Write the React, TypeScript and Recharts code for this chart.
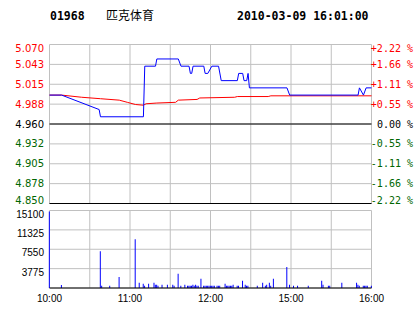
import React from "react";
import {
  LineChart,
  Line,
  BarChart,
  Bar,
  XAxis,
  YAxis,
  CartesianGrid,
  ReferenceLine
} from "recharts";

const stockCode = "01968";
const stockName = "匹克体育";
const stamp = "2010-03-09 16:01:00";

// minutes from 10:00 (12:30 and 14:30 touch)
const priceTimes = [0, 9, 37, 38, 70, 71, 79, 80, 96, 98, 104, 105, 106, 107, 115, 116, 118, 121, 126, 128, 140, 141, 144, 145, 147, 148, 149, 177, 179, 230, 231, 234, 236, 240];
const priceValues = [5.0, 5.0, 4.98, 4.97, 4.97, 5.04, 5.04, 5.05, 5.05, 5.04, 5.04, 5.03, 5.03, 5.04, 5.04, 5.03, 5.03, 5.04, 5.04, 5.02, 5.02, 5.03, 5.03, 5.02, 5.02, 5.03, 5.01, 5.01, 5.0, 5.0, 5.01, 5.0, 5.01, 5.01];

const avgTimes = [0, 9, 24, 38, 52, 58, 64, 70, 72, 80, 94, 96, 110, 112, 138, 140, 163, 165, 240];
const avgValues = [5.0, 5.0, 4.997, 4.995, 4.993, 4.99, 4.987, 4.986, 4.988, 4.989, 4.99, 4.993, 4.994, 4.996, 4.997, 4.998, 4.998, 4.999, 4.999];

const volTimes = [0, 9, 38, 39, 45, 52, 64, 67, 70, 71, 74, 78, 79, 80, 81, 84, 88, 92, 93, 96, 98, 101, 103, 104, 105, 106, 107, 108, 109, 110, 111, 113, 115, 116, 117, 118, 119, 120, 121, 122, 123, 125, 126, 127, 131, 132, 133, 134, 135, 136, 137, 140, 141, 144, 146, 147, 148, 155, 159, 161, 162, 164, 165, 167, 177, 179, 182, 185, 193, 203, 204, 208, 209, 218, 229, 230, 231, 234, 235, 236, 237, 240];
const volValues = [14900, 590, 7160, 450, 450, 2150, 9490, 1040, 840, 450, 840, 1040, 650, 650, 450, 650, 650, 650, 450, 2800, 450, 650, 450, 450, 450, 450, 650, 450, 650, 450, 450, 1820, 450, 450, 450, 450, 450, 450, 450, 450, 450, 450, 450, 450, 840, 450, 450, 450, 450, 450, 650, 450, 450, 1430, 650, 450, 450, 450, 1040, 450, 650, 1040, 450, 1820, 4100, 650, 450, 450, 450, 1430, 650, 450, 450, 1040, 1040, 650, 450, 450, 450, 450, 450, 450];

const gridTimes = [0, 30, 60, 90, 120, 150, 180, 210, 240];
const labelTimes = [0, 60, 120, 180, 240];
const timeLabels = ["10:00", "11:00", "12:00", "15:00", "16:00"];

const priceTicks = [4.85, 4.8775, 4.905, 4.9325, 4.96, 4.9875, 5.015, 5.0425, 5.07];
const priceLabels = ["4.850", "4.878", "4.905", "4.932", "4.960", "4.988", "5.015", "5.043", "5.070"];
const pctLabels = ["-2.22 %", "-1.66 %", "-1.11 %", "-0.55 %", "0.00 %", "+0.55 %", "+1.11 %", "+1.66 %", "+2.22 %"];

const volTicks = [0, 3775, 7550, 11325, 15100];
const volLabels = ["", "3775", "7550", "11325", "15100"];

const priceData = priceTimes.map((t, i) => ({ t, p: priceValues[i] }));
const avgData = avgTimes.map((t, i) => ({ t, p: avgValues[i] }));
const volData = volTimes.map((t, i) => ({ t, v: volValues[i] }));

const UP = "#ff0000";
const DOWN = "#006600";
const GRID = "#c0c0c0";

const tickColor = (i: number) => (i > 4 ? UP : i < 4 ? DOWN : "#000000");
const tickShift = (i: number) => (i === priceTicks.length - 1 ? 7.5 : i === 0 ? 0 : 3.6);

// left price label and right percent label share one tick
const PriceTick = ({ y, index }: any) => (
  <g>
    <text
      x={44}
      y={y + tickShift(index)}
      textAnchor="end"
      fontSize={10}
      fontFamily="'DejaVu Sans', Verdana, sans-serif"
      fill={tickColor(index)}
    >
      {priceLabels[index]}
    </text>
    <text
      x={413}
      y={y + tickShift(index)}
      textAnchor="end"
      fontSize={10}
      fontFamily="'DejaVu Sans Mono', monospace"
      fill={tickColor(index)}
    >
      {pctLabels[index]}
    </text>
  </g>
);

const VolTick = ({ y, index }: any) => (
  <text
    x={44}
    y={y + 7}
    textAnchor="end"
    fontSize={10}
    fontFamily="'Liberation Sans', Arial, sans-serif"
    fill="#000"
  >
    {volLabels[index]}
  </text>
);

const TimeTick = ({ x, payload }: any) => {
  const k = labelTimes.indexOf(payload.value);
  if (k < 0) return null;
  return (
    <text
      x={x}
      y={102}
      textAnchor="middle"
      fontSize={10}
      fontFamily="'Liberation Sans', Arial, sans-serif"
      fill="#000"
    >
      {timeLabels[k]}
    </text>
  );
};

const headStyle: React.CSSProperties = {
  position: "absolute",
  top: 9,
  fontFamily: "'DejaVu Sans Mono', monospace",
  fontWeight: "bold",
  fontSize: 11.5,
  lineHeight: "14px",
  color: "#000"
};

export default function App() {
  return (
    <div style={{ position: "absolute", left: 0, top: 0, width: 414, height: 314, background: "#fff" }}>
      <div style={{ ...headStyle, left: 50 }}>{stockCode}</div>
      <div
        style={{
          ...headStyle,
          left: 106,
          top: 8,
          fontWeight: "normal",
          fontSize: 12,
          fontFamily: "'Noto Sans CJK SC', sans-serif"
        }}
      >
        {stockName}
      </div>
      <div style={{ ...headStyle, left: 237 }}>{stamp}</div>

      <div style={{ position: "absolute", left: 0, top: 0 }}>
        <LineChart width={414} height={215} margin={{ top: 44.5, right: 42.5, bottom: 11.5, left: 0 }}>
          <CartesianGrid stroke={GRID} />
          <XAxis type="number" dataKey="t" domain={[0, 240]} ticks={gridTimes} hide />
          <YAxis
            domain={[4.85, 5.07]}
            ticks={priceTicks}
            interval={0}
            width={49.5}
            axisLine={false}
            tickLine={false}
            tick={<PriceTick />}
          />
          <ReferenceLine y={4.96} stroke="#000" />
          <ReferenceLine y={4.85} stroke="#000" />
          <Line
            data={avgData}
            dataKey="p"
            type="linear"
            stroke="#ff0000"
            strokeWidth={1}
            dot={false}
            isAnimationActive={false}
          />
          <Line
            data={priceData}
            dataKey="p"
            type="linear"
            stroke="#0000ff"
            strokeWidth={1}
            dot={false}
            isAnimationActive={false}
          />
        </LineChart>
      </div>

      <div style={{ position: "absolute", left: 0, top: 200 }}>
        <BarChart width={414} height={114} data={volData} margin={{ top: 10.5, right: 42.5, bottom: 0, left: 0 }}>
          <CartesianGrid stroke={GRID} />
          <XAxis
            type="number"
            dataKey="t"
            domain={[0, 240]}
            ticks={gridTimes}
            interval={0}
            height={26}
            axisLine={{ stroke: "#000" }}
            tickLine={false}
            tick={<TimeTick />}
          />
          <YAxis
            domain={[0, 15100]}
            ticks={volTicks}
            interval={0}
            width={49.5}
            axisLine={false}
            tickLine={false}
            tick={<VolTick />}
          />
          <Bar dataKey="v" fill="#0000ff" barSize={1} isAnimationActive={false} />
        </BarChart>
      </div>
    </div>
  );
}
